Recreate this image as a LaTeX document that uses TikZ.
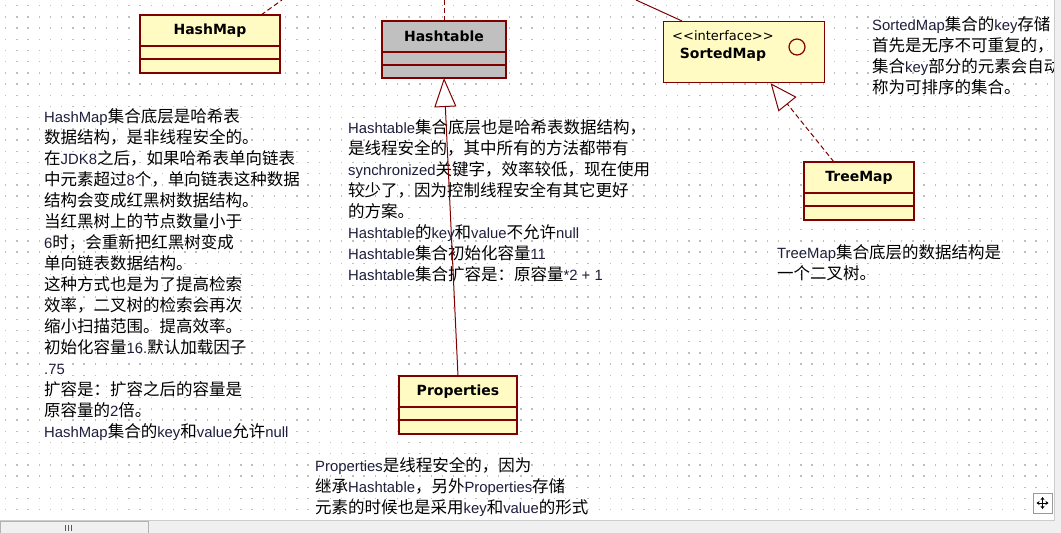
\documentclass[tikz,border=0pt]{standalone}
\usepackage{fontspec}
\setmainfont{Liberation Sans}
\newfontfamily\cjkfont{Noto Sans CJK SC}
\newfontfamily\latinfont{Liberation Sans}[Scale=0.9]
\newfontfamily\titlefont{DejaVu Sans}
\usetikzlibrary{positioning,arrows.meta}

\definecolor{umlline}{RGB}{128,0,0}
\definecolor{umlfill}{RGB}{255,251,194}
\definecolor{umlgray}{RGB}{192,192,192}
\definecolor{griddot}{RGB}{190,190,190}
\definecolor{barbg}{RGB}{240,240,240}
\definecolor{latinink}{RGB}{30,30,60}

% CJK characters get a class of their own, so mixed lines switch fonts by themselves
\newcount\cjkchar
\def\setcjkclass#1#2{\cjkchar=#1 \loop\XeTeXcharclass\cjkchar=7 \advance\cjkchar by 1 \ifnum\cjkchar<#2 \repeat}
\setcjkclass{"3000}{"3040}
\setcjkclass{"4E00}{"A000}
\setcjkclass{"FF00}{"FFF0}
\XeTeXinterchartoks 0 7 = {\cjkfont\color{black}}
\XeTeXinterchartoks 4095 7 = {\cjkfont\color{black}}
\XeTeXinterchartoks 7 0 = {\latinfont\color{latinink}}
\XeTeXinterchartoks 4095 0 = {\latinfont\color{latinink}}

\tikzset{
  classhead/.style={draw=umlline, line width=1.2pt, fill=umlfill, minimum height=31pt,
    inner sep=0pt, outer sep=0pt, font=\titlefont\bfseries\fontsize{14}{16}\selectfont},
  classpart/.style={draw=umlline, line width=1.2pt, fill=umlfill, minimum height=13pt,
    inner sep=0pt, outer sep=0pt},
  note/.style={align=left, anchor=north west, inner sep=0pt,
    font={\fontsize{16.5}{21}\selectfont\cjkfont\XeTeXinterchartokenstate=1}},
  link/.style={draw=umlline, line width=1pt},
  realize/.style={link, dash pattern=on 5pt off 3pt},
}

\begin{document}
\begin{tikzpicture}[x=1pt, y=-1pt]
  \useasboundingbox (0,0) rectangle (1061,533);
  \fill[white] (0,0) rectangle (1061,533);
  % dotted grid of the drawing area
  \foreach \i in {0,...,93}
    \foreach \j in {0,...,45}
      \fill[griddot] (5+\i*11.2, 5+\j*11.2) rectangle +(1.4,1.4);

  % classes
  \node[classhead, minimum width=140pt, anchor=north west] (hashmap) at (140,15) {HashMap};
  \node[classpart, minimum width=140pt, below=0pt of hashmap] (hashmapattr) {};
  \node[classpart, minimum width=140pt, minimum height=14pt, below=0pt of hashmapattr] (hashmapop) {};

  \node[classhead, fill=umlgray, minimum width=124pt, anchor=north west] (hashtable) at (382,21) {Hashtable};
  \node[classpart, fill=umlgray, minimum width=124pt, below=0pt of hashtable] (hashtableattr) {};
  \node[classpart, fill=umlgray, minimum width=124pt, below=0pt of hashtableattr] (hashtableop) {};

  \node[classhead, minimum width=110pt, anchor=north west] (treemap) at (804,162) {TreeMap};
  \node[classpart, minimum width=110pt, below=0pt of treemap] (treemapattr) {};
  \node[classpart, minimum width=110pt, minimum height=14pt, below=0pt of treemapattr] (treemapop) {};

  \node[classhead, minimum width=118pt, anchor=north west] (properties) at (399,376) {Properties};
  \node[classpart, minimum width=118pt, below=0pt of properties] (propertiesattr) {};
  \node[classpart, minimum width=118pt, minimum height=14pt, below=0pt of propertiesattr] (propertiesop) {};

  \node[draw=umlline, line width=1.2pt, fill=umlfill, minimum width=161pt, minimum height=61pt,
    anchor=north west] (sortedmap) at (663,21) {};
  \node[align=center, inner sep=0pt, font=\titlefont\fontsize{13}{18}\selectfont] (sortedmaptitle)
    at (723,46) {<{}<interface>{}>\\ \textbf{\fontsize{14}{18}\selectfont SortedMap}};
  \node[draw=umlline, line width=1.2pt, circle, minimum size=16pt, inner sep=0pt] (sortedmapicon) at (797,47) {};

  % notes
  \node[note] (hashmapnote) at (44,108.6) {HashMap集合底层是哈希表\\
    数据结构，是非线程安全的。\\
    在JDK8之后，如果哈希表单向链表\\
    中元素超过8个，单向链表这种数据\\
    结构会变成红黑树数据结构。\\
    当红黑树上的节点数量小于\\
    6时，会重新把红黑树变成\\
    单向链表数据结构。\\
    这种方式也是为了提高检索\\
    效率，二叉树的检索会再次\\
    缩小扫描范围。提高效率。\\
    初始化容量16.默认加载因子\\
    .75\\
    扩容是：扩容之后的容量是\\
    原容量的2倍。\\
    HashMap集合的key和value允许null};
  \node[note] (hashtablenote) at (348,119.6) {Hashtable集合底层也是哈希表数据结构，\\
    是线程安全的，其中所有的方法都带有\\
    synchronized关键字，效率较低，现在使用\\
    较少了，因为控制线程安全有其它更好\\
    的方案。\\
    Hashtable的key和value不允许null\\
    Hashtable集合初始化容量11\\
    Hashtable集合扩容是：原容量*2 + 1};
  \node[note] (treemapnote) at (777,244.6) {TreeMap集合底层的数据结构是\\
    一个二叉树。};
  \node[note] (propertiesnote) at (315,457.6) {Properties是线程安全的，因为\\
    继承Hashtable，另外Properties存储\\
    元素的时候也是采用key和value的形式};
  \begin{scope}
    \clip (0,0) rectangle (1053,520);
    \node[note] (sortedmapnote) at (872,16.6) {SortedMap集合的key存储\\
      首先是无序不可重复的，\\
      集合key部分的元素会自动\\
      称为可排序的集合。};
  \end{scope}

  % relations
  \coordinate (hashmapup) at (282,0);
  \coordinate (hashtableup) at (444,0);
  \coordinate (sortedmapup) at (636,0);
  \draw[realize] ([xshift=51pt]hashmap.north) -- (hashmapup);
  \draw[realize] (hashtable.north) -- (hashtableup);
  \draw[link] ([xshift=19pt]sortedmap.north west) -- (sortedmapup);
  \draw[link, -{Triangle[length=29pt, width=22pt, fill=white]}] (properties.north) -- (hashtableop.south);
  \draw[realize, -{Triangle[length=27pt, width=23pt, fill=white]}]
    ([xshift=-25pt]treemap.north) -- ([xshift=26.5pt]sortedmap.south);

  % scroll bars and move handle of the window
  \fill[barbg] (0,520) rectangle (1061,533);
  \fill[barbg] (1054,0) rectangle (1061,520);
  \draw[gray!40] (0,520) -- (1054,520) -- (1054,0);
  \draw[gray!60, fill=gray!12] (0,521) rectangle (148,534);
  \foreach \x in {65,68,71}
    \draw[gray!70!black] (\x,525) -- (\x,531);
  \node[draw=gray!80, fill=white, minimum width=19pt, minimum height=20pt, inner sep=0pt] (movehandle) at (1042.5,503) {};
  \foreach \dx/\dy in {0/-6,0/6,-6/0,6/0}
    \draw[-{Stealth[length=3pt,width=4pt]}, line width=1pt] (movehandle.center) -- +(\dx,\dy);
\end{tikzpicture}
\end{document}
